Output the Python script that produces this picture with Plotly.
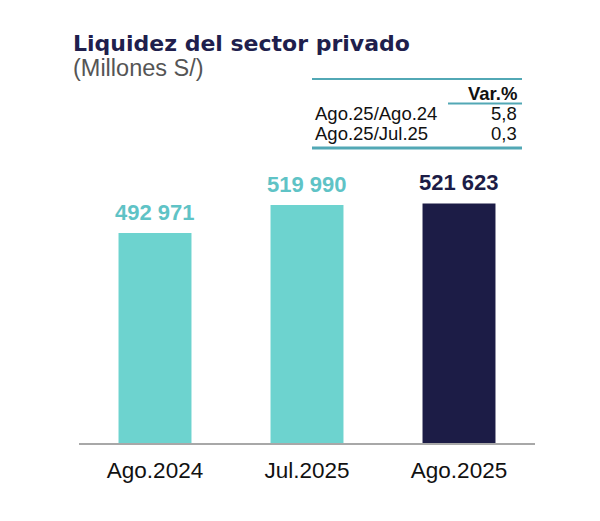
import plotly.graph_objects as go

categories = ["Ago.2024", "Jul.2025", "Ago.2025"]
values = [492971, 519990, 521623]
value_labels = ["492 971", "519 990", "521 623"]
table_header = "Var.%"
table_rows = ["Ago.25/Ago.24", "Ago.25/Jul.25"]
table_values = ["5,8", "0,3"]

TEAL = "#6DD3CF"
TEAL_TXT = "#5FC3C6"
NAVY = "#1C1C46"
LINE = "#52A8B5"
FONT = "Liberation Sans, Arial, sans-serif"
TITLE_FONT = "DejaVu Sans, Liberation Sans, sans-serif"

# page body has an 8px margin, so the figure is drawn 8px in from the corner
OFF = 8
W, H = 600 - 2 * OFF, 521 - 2 * OFF
L, R, T, B = 79 - OFF, 600 - 535 - OFF, 160 - OFF, 521 - 443 - OFF
PW, PH = W - L - R, H - T - B


def px(x):
    return (x - OFF - L) / PW


def py(y):
    return (H - B - (y - OFF)) / PH


bar_colors = [TEAL, TEAL, NAVY]
label_colors = [TEAL_TXT, TEAL_TXT, NAVY]

fig = go.Figure()
fig.add_trace(go.Bar(
    x=categories, y=values,
    marker=dict(color=bar_colors, line=dict(width=0)),
    hoverinfo="skip",
))

annotations = []
for c, v, lab, col in zip(categories, values, value_labels, label_colors):
    annotations.append(dict(
        x=c, y=v, xref="x", yref="y", text=f"<b>{lab}</b>", showarrow=False,
        yanchor="middle", yshift=21, font=dict(family=FONT, size=22, color=col),
    ))

annotations.append(dict(
    x=px(71), y=py(44), xref="paper", yref="paper", xanchor="left", yanchor="middle",
    text="<b>Liquidez del sector privado</b>", showarrow=False,
    font=dict(family=TITLE_FONT, size=22, color="#1F1F4D"),
))
annotations.append(dict(
    x=px(71), y=py(68), xref="paper", yref="paper", xanchor="left", yanchor="middle",
    text="(Millones S/)", showarrow=False,
    font=dict(family=FONT, size=23.5, color="#555555"),
))
annotations.append(dict(
    x=px(519), y=py(93), xref="paper", yref="paper", xanchor="right", yanchor="middle",
    text=f"<b>{table_header}</b>", showarrow=False,
    font=dict(family=FONT, size=18.5, color="#111111"),
))
row_y = [113.5, 133]
for name, val, yy in zip(table_rows, table_values, row_y):
    annotations.append(dict(
        x=px(313), y=py(yy), xref="paper", yref="paper", xanchor="left", yanchor="middle",
        text=name, showarrow=False, font=dict(family=FONT, size=18.5, color="#111111"),
    ))
    annotations.append(dict(
        x=px(519), y=py(yy), xref="paper", yref="paper", xanchor="right", yanchor="middle",
        text=val, showarrow=False, font=dict(family=FONT, size=18.5, color="#111111"),
    ))

shapes = [
    dict(type="line", xref="paper", yref="paper", x0=px(312), x1=px(522), y0=py(79), y1=py(79),
         line=dict(color=LINE, width=2)),
    dict(type="line", xref="paper", yref="paper", x0=px(448), x1=px(522), y0=py(103.5), y1=py(103.5),
         line=dict(color=LINE, width=2)),
    dict(type="line", xref="paper", yref="paper", x0=px(312), x1=px(522), y0=py(148), y1=py(148),
         line=dict(color=LINE, width=3)),
]

k = 0.001033
ymin = 289700
ymax = ymin + PH / k

fig.update_layout(
    width=W, height=H,
    margin=dict(l=L, r=R, t=T, b=B, pad=0),
    paper_bgcolor="white", plot_bgcolor="white",
    bargap=0.52,
    showlegend=False,
    annotations=annotations,
    shapes=shapes,
    xaxis=dict(
        showgrid=False, showline=True, linecolor="#A8A8A8", linewidth=1.5,
        ticks="", tickfont=dict(family=FONT, size=22.5, color="#111111"),
        ticklabelstandoff=6,
        range=[-0.5, 2.5], fixedrange=True,
    ),
    yaxis=dict(
        range=[ymin, ymax], showgrid=False, showticklabels=False, zeroline=False,
        showline=False, fixedrange=True,
    ),
)

fig.write_html("out.html")
